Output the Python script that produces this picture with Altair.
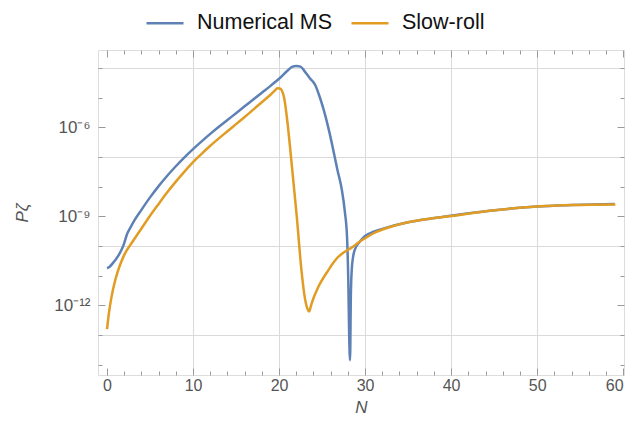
import altair as alt
import pandas as pd

# ---- data (N, log10 P_zeta) ----
series_names = ["Numerical MS", "Slow-roll"]
series_colors = ["#5E81B5", "#E19C24"]

N_ms = [0, 0.3, 0.7, 1.3, 1.7, 2.0, 2.3, 2.7, 3.2, 4, 5, 6, 7, 8, 9, 10, 11, 12,
        13, 14, 15, 16, 17, 18, 19, 20, 21, 21.5, 22.0, 22.5, 23.0, 23.6, 24.2,
        24.7, 25.2, 25.8, 26.3, 26.8, 27.3, 27.65, 27.9, 28.05, 28.15, 28.25,
        28.35, 28.5, 28.8, 29.4, 30, 31, 32.5, 35, 37.5, 40, 44.5, 50, 54, 59]
logP_ms = [-10.75, -10.7, -10.57, -10.33, -10.12, -9.9, -9.62, -9.39, -9.13,
           -8.78, -8.36, -7.98, -7.63, -7.31, -7.01, -6.73, -6.47, -6.22, -5.98,
           -5.75, -5.52, -5.29, -5.06, -4.83, -4.6, -4.36, -4.08, -3.96, -3.93,
           -3.95, -4.12, -4.35, -4.57, -4.95, -5.42, -6.1, -6.76, -7.45, -8.11,
           -8.85, -9.69, -11.2, -13.0, -13.85, -11.6, -10.6, -10.13, -9.85, -9.66,
           -9.52, -9.38, -9.2, -9.08, -8.98, -8.81, -8.67, -8.62, -8.58]

N_sr = [0, 0.25, 0.5, 1.0, 1.5, 2.0, 3, 4, 5, 6, 7, 8, 9, 10, 11, 12, 13, 14, 15,
        16, 17, 18, 19, 19.5, 19.8, 20.1, 20.35, 20.6, 20.9, 21.5, 22.06, 22.6,
        23.0, 23.3, 23.5, 23.65, 23.8, 24.0, 24.3, 24.7, 25.2, 25.7, 26.2, 26.7,
        27.5, 28.3, 29.4, 30, 31, 32.9, 35, 37.5, 40, 44.5, 50, 54.2, 59.1]
logP_sr = [-12.8, -12.2, -11.75, -11.1, -10.65, -10.3, -9.84, -9.41, -8.98, -8.58,
           -8.19, -7.83, -7.49, -7.17, -6.89, -6.62, -6.37, -6.13, -5.89, -5.65,
           -5.40, -5.15, -4.90, -4.76, -4.68, -4.69, -4.77, -5.02, -5.64, -7.33,
           -9.01, -10.81, -11.75, -12.12, -12.21, -12.08, -11.93, -11.76, -11.55,
           -11.3, -11.05, -10.83, -10.61, -10.42, -10.22, -10.08, -9.85, -9.74,
           -9.57, -9.36, -9.2, -9.08, -8.99, -8.81, -8.67, -8.62, -8.6]

x_ticks = list(range(0, 61, 2))
y_decades = list(range(-14, -3))

df = pd.concat([
    pd.DataFrame({"N": N_ms, "logP": logP_ms, "series": series_names[0]}),
    pd.DataFrame({"N": N_sr, "logP": logP_sr, "series": series_names[1]}),
])
df["P"] = 10.0 ** df["logP"]
y_ticks = [10.0 ** d for d in y_decades]

W, H = 526, 325
FONT = "Liberation Sans"
GRAY = "#555555"
FRAME = "#9a9a9a"

xscale = alt.Scale(domain=[-1.05, 60.1], nice=False, zero=False)
yscale = alt.Scale(type="log", domain=[10 ** -14.35, 10 ** -3.39], nice=False)

dec = "round(log(datum.value)/LN10)"
ylabel = (f"{dec}==-6 ? '10⁻⁶' : {dec}==-9 ? '10⁻⁹' : {dec}==-12 ? '10⁻¹²' : ''")

lines = alt.Chart(df).mark_line(strokeWidth=2.5, interpolate="monotone").encode(
    x=alt.X("N:Q", scale=xscale, axis=alt.Axis(
        values=x_ticks, orient="bottom", domain=False, ticks=False,
        labelExpr="datum.value % 10 == 0 ? datum.label : ''",
        grid=True, gridColor="#dadada", gridWidth=1,
        gridOpacity={"condition": {"test": "datum.value % 10 == 0 && datum.value > 0 && datum.value < 60", "value": 1}, "value": 0},
        labelFont=FONT, labelFontSize=16, labelColor=GRAY, labelPadding=2,
        title="N", titleFont=FONT, titleFontSize=17, titleFontStyle="italic",
        titleFontWeight="normal", titleColor=GRAY, titlePadding=6)),
    y=alt.Y("P:Q", scale=yscale, axis=alt.Axis(
        values=y_ticks, orient="left", domain=False, ticks=False,
        labelExpr=ylabel,
        grid=True, gridColor="#dadada", gridWidth=1,
        gridOpacity={"condition": {"test": f"({dec}+13)%3==0", "value": 1}, "value": 0},
        labelFont=FONT, labelFontSize=17, labelColor=GRAY, labelPadding=8,
        title="Pζ", titleFont=FONT, titleFontSize=17, titleFontStyle="italic",
        titleFontWeight="normal", titleColor=GRAY, titlePadding=22)),
    color=alt.Color("series:N", sort=series_names,
                    scale=alt.Scale(domain=series_names, range=series_colors),
                    legend=alt.Legend(
                        orient="none", legendX=47, legendY=-47, direction="horizontal",
                        title=None, symbolType="stroke", symbolSize=1369,
                        symbolStrokeWidth=2.5, labelFont=FONT, labelFontSize=21.5,
                        labelColor="#111111", labelOffset=12, columnPadding=14,
                        padding=0)),
)

xt_cond = {"condition": {"test": "datum.value % 10 == 0", "value": 7}, "value": 4}
yt_cond = {"condition": {"test": f"({dec}+12)%3==0", "value": 7}, "value": 4}

ticks_bl = alt.Chart(df).mark_point(opacity=0).encode(
    x=alt.X("N:Q", scale=xscale, axis=alt.Axis(
        values=x_ticks, orient="top", offset=-H, labels=False, domain=False,
        grid=False, tickColor=FRAME, tickSize=xt_cond, title=None)),
    y=alt.Y("P:Q", scale=yscale, axis=alt.Axis(
        values=y_ticks, orient="right", offset=-W, labels=False, domain=False,
        grid=False, tickColor=FRAME, tickSize=yt_cond, title=None)),
)

ticks_tr = alt.Chart(df).mark_point(opacity=0).encode(
    x=alt.X("N:Q", scale=xscale, axis=alt.Axis(
        values=x_ticks, orient="bottom", offset=-H, labels=False, domain=False,
        grid=False, tickColor=FRAME, tickSize=xt_cond, title=None)),
    y=alt.Y("P:Q", scale=yscale, axis=alt.Axis(
        values=y_ticks, orient="left", offset=-W, labels=False, domain=False,
        grid=False, tickColor=FRAME, tickSize=yt_cond, title=None)),
)

chart = alt.layer(lines, ticks_bl, ticks_tr).resolve_axis(
    x="independent", y="independent"
).properties(
    width=W, height=H,
    autosize=alt.AutoSizeParams(type="none"),
    padding={"left": 90, "top": 42, "right": 6, "bottom": 44},
).configure_view(stroke=FRAME, strokeWidth=1).configure(background="white")

chart.save("out.html", embed_options={"renderer": "svg", "actions": False})
